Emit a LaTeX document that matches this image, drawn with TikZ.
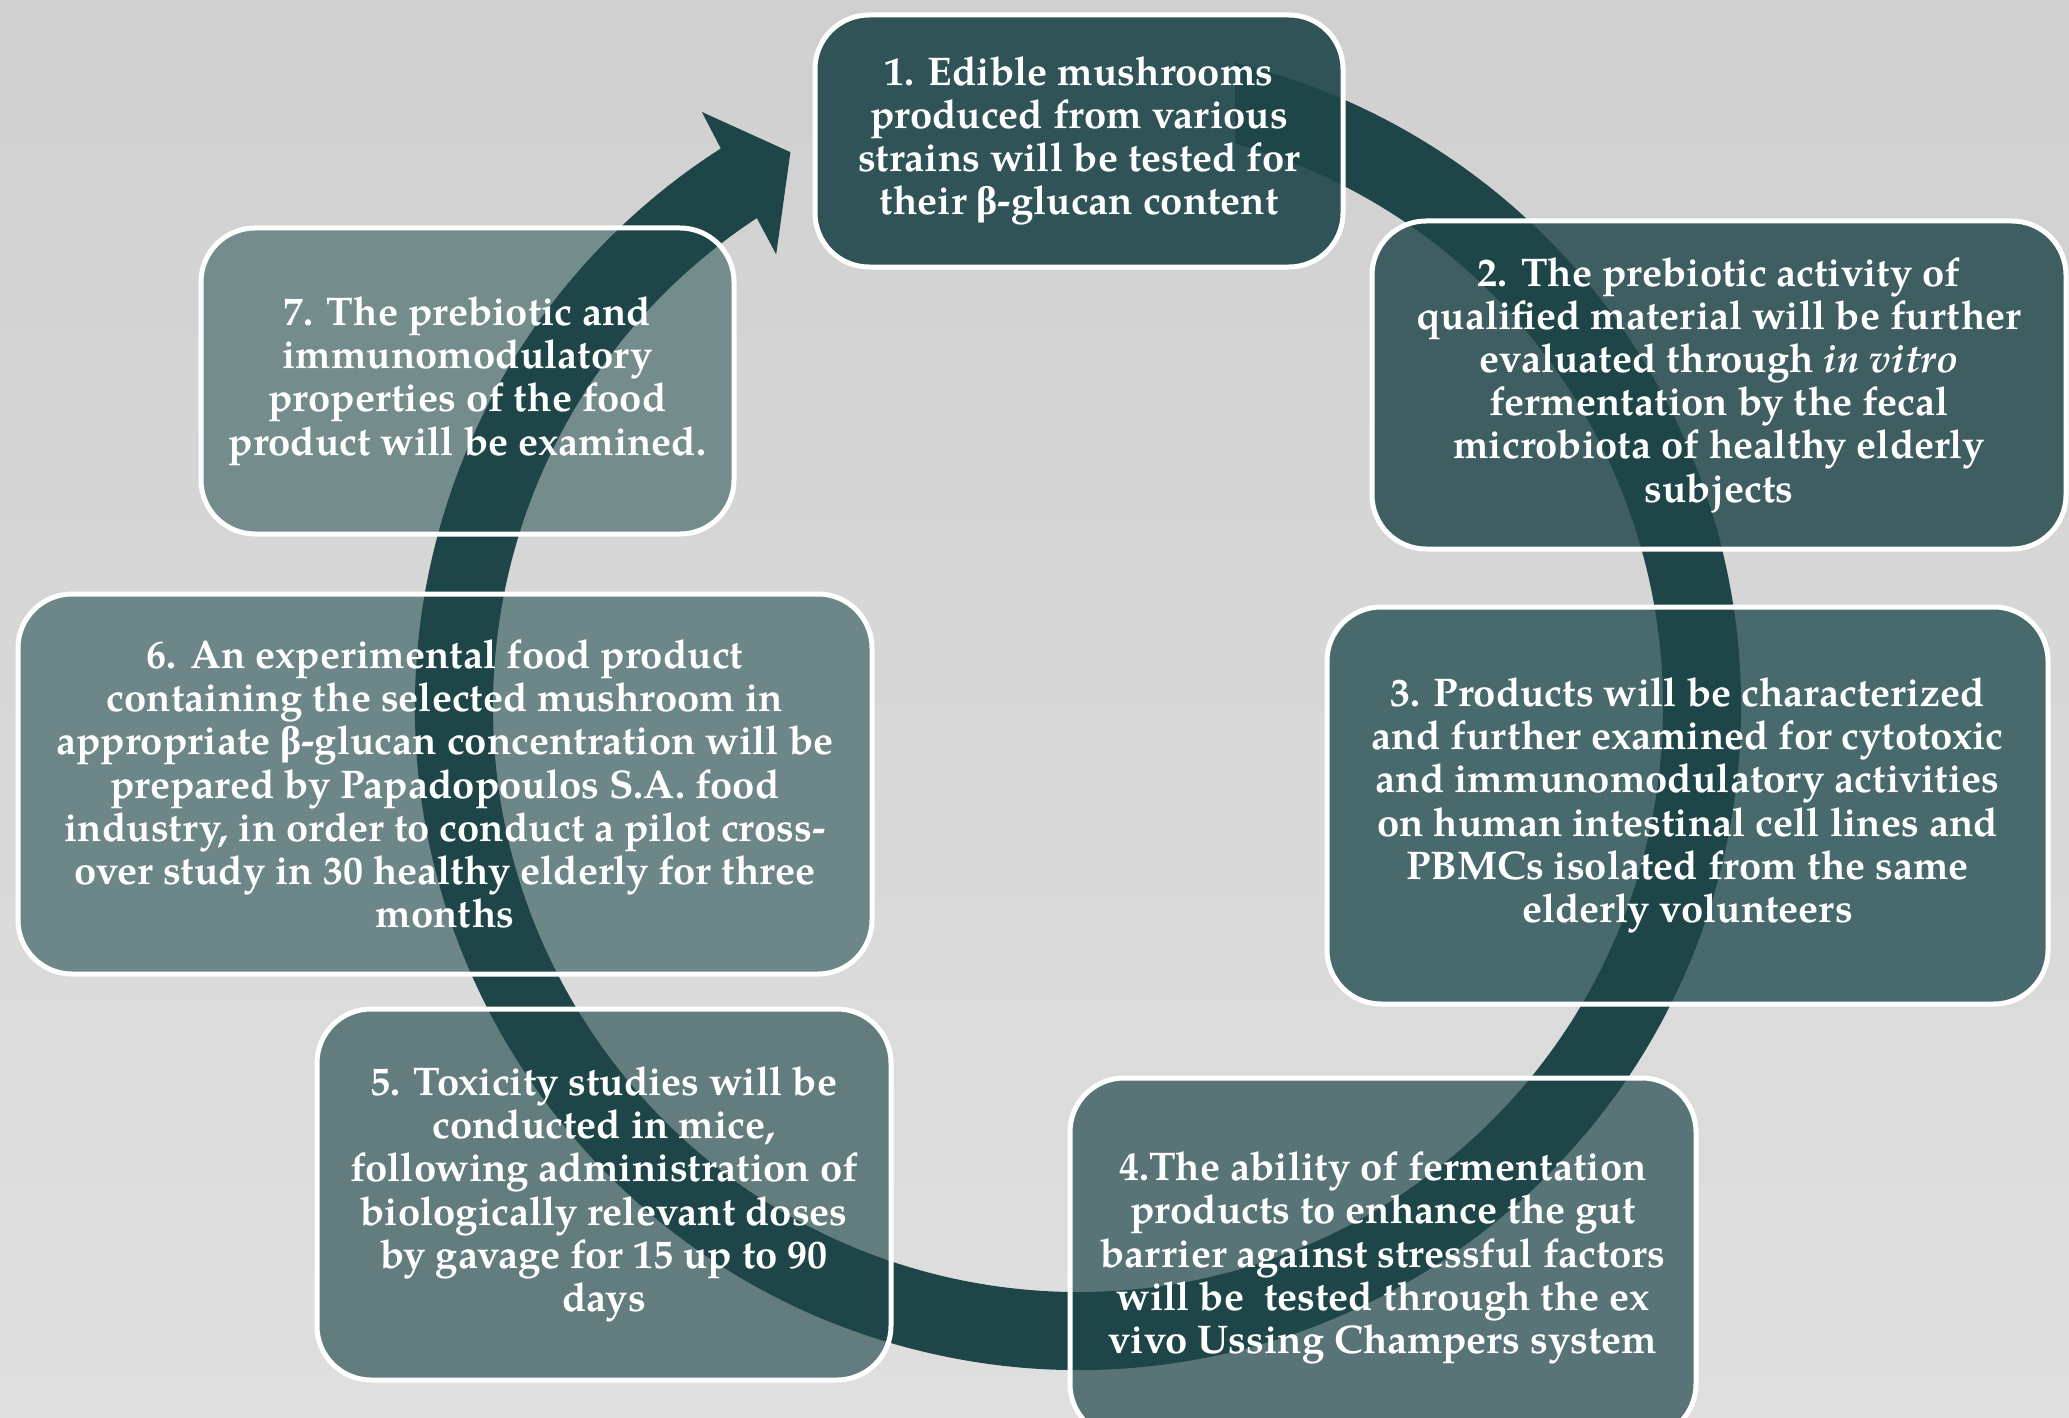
\documentclass[tikz,border=0pt]{standalone}
\usepackage{fontspec}
\setmainfont{TeX Gyre Pagella}
\newfontfamily\grkfont{Liberation Serif}
\newcommand{\bglu}{{\grkfont β}}
\usetikzlibrary{backgrounds}

\definecolor{bgtop}{HTML}{D0D0D0}
\definecolor{bgbot}{HTML}{DFDFDF}
\definecolor{ring}{HTML}{1E4548}
\definecolor{fillA}{HTML}{2F5357}
\definecolor{fillB}{HTML}{3E5E61}
\definecolor{fillC}{HTML}{496A6C}
\definecolor{fillD}{HTML}{587476}
\definecolor{fillE}{HTML}{637D7E}
\definecolor{fillF}{HTML}{6D8687}
\definecolor{fillG}{HTML}{748C8C}

\pgfdeclarelayer{boxfills}
\pgfdeclarelayer{cycle}
\pgfsetlayers{boxfills,cycle,main}

\tikzset{
  stagebox/.style={draw=white, line width=2.5pt, rounded corners=27pt,
    outer sep=0pt, inner sep=0pt, align=center, text=white,
    font=\bfseries\fontsize{20}{21.6}\selectfont},
}

\begin{document}
\begin{tikzpicture}[x=0.5pt, y=-0.5pt]
\useasboundingbox (0,0) rectangle (2069,1418);

% stage boxes: white outlines and text on the top layer
\node[stagebox, minimum width=264pt, minimum height=126pt] (s1) at (1079,141)
  {1. Edible mushrooms\\produced from various\\strains will be tested for\\their \bglu-glucan content};
\node[stagebox, minimum width=347pt, minimum height=164pt] (s2) at (1719,385)
  {2. The prebiotic activity of\\qualified material will be further\\evaluated through \textit{in vitro}\\fermentation by the fecal\\microbiota of healthy elderly\\subjects};
\node[stagebox, minimum width=360.5pt, minimum height=198.5pt] (s3) at (1687.5,805.5)
  {3. Products will be characterized\\and further examined for cytotoxic\\and immunomodulatory activities\\on human intestinal cell lines and\\PBMCs isolated from the same\\elderly volunteers};
\node[stagebox, minimum width=313pt, minimum height=180pt] (s4) at (1383,1258)
  {4.The ability of fermentation\\products to enhance the gut\\barrier against stressful factors\\will be \ tested through the ex\\vivo Ussing Champers system};
\node[stagebox, minimum width=287pt, minimum height=185.5pt] (s5) at (604,1194.5)
  {5. Toxicity studies will be\\conducted in mice,\\following administration of\\biologically relevant doses\\by gavage for 15 up to 90\\days};
\node[stagebox, minimum width=427pt, minimum height=190pt] (s6) at (445,784)
  {6. An experimental food product\\containing the selected mushroom in\\appropriate \bglu-glucan concentration will be\\prepared by Papadopoulos S.A. food\\industry, in order to conduct a pilot cross-\\over study in 30 healthy elderly for three\\months};
\node[stagebox, minimum width=266.5pt, minimum height=153pt] (s7) at (467.5,381)
  {7. The prebiotic and\\immunomodulatory\\properties of the food\\product will be examined.};

% background and box fills
\begin{pgfonlayer}{boxfills}
  \shade[top color=bgtop, bottom color=bgbot] (0,0) rectangle (2069,1418);
  \foreach \s/\c in {s1/fillA, s2/fillB, s3/fillC, s4/fillD, s5/fillE, s6/fillF, s7/fillG}
    \fill[\c, rounded corners=27pt] (\s.south west) rectangle (\s.north east);
\end{pgfonlayer}

% circular arrow running clockwise round the stages
\begin{pgfonlayer}{cycle}
  \begin{scope}[shift={(1078,707)}, yscale=-1]
    \fill[ring] (76.3:663) arc[start angle=76.3, end angle=-237.4, radius=663]
      -- (122.3:704) -- (117.4:625) -- (123.7:544) -- (-236.7:585)
      arc[start angle=-236.7, end angle=74.4, radius=585] -- cycle;
  \end{scope}
\end{pgfonlayer}
\end{tikzpicture}
\end{document}
